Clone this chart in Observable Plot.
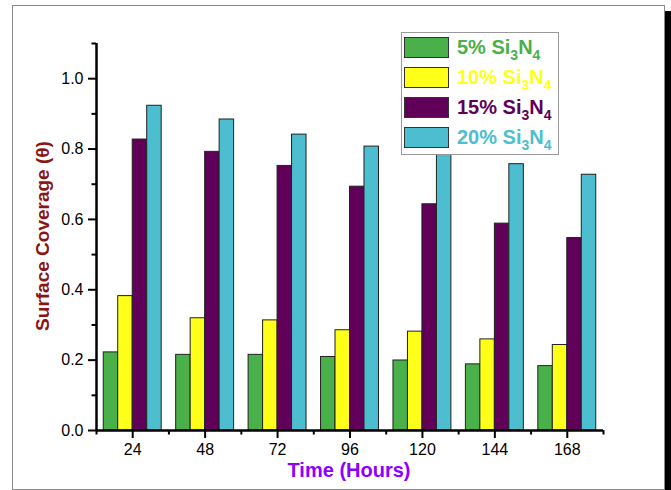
<!DOCTYPE html>
<html>
<head>
<meta charset="utf-8">
<script src="https://cdn.jsdelivr.net/npm/d3@7"></script>
<script src="https://cdn.jsdelivr.net/npm/@observablehq/plot@0.6"></script>
<style>
  html, body { margin: 0; padding: 0; background: #fff; }
  #wrap { position: relative; width: 671px; height: 490px; overflow: hidden; font-family: "Liberation Sans", Arial, sans-serif; }
  #frame { position: absolute; left: 12px; top: 5px; width: 651px; height: 483px; border: 1px solid #8a8a8a; box-shadow: 7px 6px 0 0 #000; background: #fff; }
  #chart { position: absolute; left: 0; top: 0; }
  .ytitle { position: absolute; left: 43px; top: 236px; transform: translate(-50%, -50%) rotate(-90deg); white-space: nowrap; font-weight: bold; font-size: 19px; color: #8b1414; }
  .xtitle { position: absolute; left: 349px; top: 470px; transform: translate(-50%, -50%); white-space: nowrap; font-weight: bold; font-size: 20px; color: #8c00ff; }
  #legend { position: absolute; left: 401px; top: 32px; width: 156px; height: 121px; border: 1px solid #999; background: #fff; }
  .row { position: absolute; left: 2px; height: 21px; display: flex; align-items: center; }
  .sw { width: 45px; height: 21px; border: 1px solid #333; box-sizing: border-box; }
  .lt { margin-left: 8px; font-weight: bold; font-size: 20px; white-space: nowrap; }
  .lt sub { font-size: 14px; vertical-align: -6px; line-height: 0; }
</style>
</head>
<body>
<div id="wrap">
  <div id="frame"></div>
  <div id="chart"></div>
  <div class="ytitle">Surface Coverage (θ)</div>
  <div class="xtitle">Time (Hours)</div>
  <div id="legend"></div>
</div>
<script>
// ---- data ----
const hours = [24, 48, 72, 96, 120, 144, 168];
const seriesNames = ["5%", "10%", "15%", "20%"];
const seriesColors = ["#49b04a", "#ffff1a", "#600058", "#4dbecf"];
const s5  = [0.222, 0.215, 0.215, 0.209, 0.199, 0.188, 0.183];
const s10 = [0.382, 0.319, 0.313, 0.285, 0.281, 0.259, 0.243];
const s15 = [0.827, 0.792, 0.752, 0.693, 0.643, 0.588, 0.547];
const s20 = [0.923, 0.884, 0.841, 0.807, 0.783, 0.757, 0.727];
const yMajor = [0, 0.2, 0.4, 0.6, 0.8, 1.0];
const yMinor = [0.1, 0.3, 0.5, 0.7, 0.9, 1.1];
const xMinor = [12, 36, 60, 84, 108, 132, 156, 180];

// build table
const seriesVals = [s5, s10, s15, s20];
const rows = [];
hours.forEach((h, i) => {
  seriesVals.forEach((vals, k) => {
    rows.push({ hour: h, k, series: seriesNames[k], value: vals[i] });
  });
});
const barW = 4.8; // hours per bar
const groupW = barW * seriesNames.length;

const chart = Plot.plot({
  width: 671,
  height: 490,
  marginLeft: 96,
  marginRight: 68,
  marginTop: 43,
  marginBottom: 60,
  style: { background: "transparent", fontFamily: "'Liberation Sans', Arial, sans-serif", overflow: "visible" },
  x: { type: "linear", domain: [12, 180] },
  y: { domain: [0, 1.1] },
  color: { domain: seriesNames, range: seriesColors },
  marks: [
    Plot.rectY(rows, {
      x1: d => d.hour - groupW / 2 + d.k * barW,
      x2: d => d.hour - groupW / 2 + (d.k + 1) * barW,
      y1: 0,
      y2: "value",
      fill: "series",
      stroke: "#222",
      strokeWidth: 1
    }),
    Plot.axisY(yMajor, { tickSize: 8, tickPadding: 5, tickFormat: d3.format(".1f"), fontSize: 16, color: "#000", strokeWidth: 2, label: null }),
    Plot.axisY(yMinor, { tickSize: 4.5, tickFormat: () => "", strokeWidth: 2, label: null }),
    Plot.axisX(hours, { tickSize: 8, tickPadding: 5, fontSize: 16, color: "#000", strokeWidth: 2, label: null }),
    Plot.axisX(xMinor, { tickSize: 4.5, tickFormat: () => "", strokeWidth: 2, label: null }),
    Plot.ruleX([12], { y1: 0, y2: 1.1, stroke: "#000", strokeWidth: 2.5 }),
    Plot.ruleY([0], { x1: 12, x2: 180, stroke: "#000", strokeWidth: 2.5 })
  ]
});
document.getElementById("chart").appendChild(chart);

// legend
const legend = document.getElementById("legend");
const rowTops = [4, 34, 64, 94];
seriesNames.forEach((name, k) => {
  const r = document.createElement("div");
  r.className = "row";
  r.style.top = rowTops[k] + "px";
  r.innerHTML = `<div class="sw" style="background:${seriesColors[k]}"></div><div class="lt" style="color:${seriesColors[k]}">${name} Si<sub>3</sub>N<sub>4</sub></div>`;
  legend.appendChild(r);
});
</script>
</body>
</html>
